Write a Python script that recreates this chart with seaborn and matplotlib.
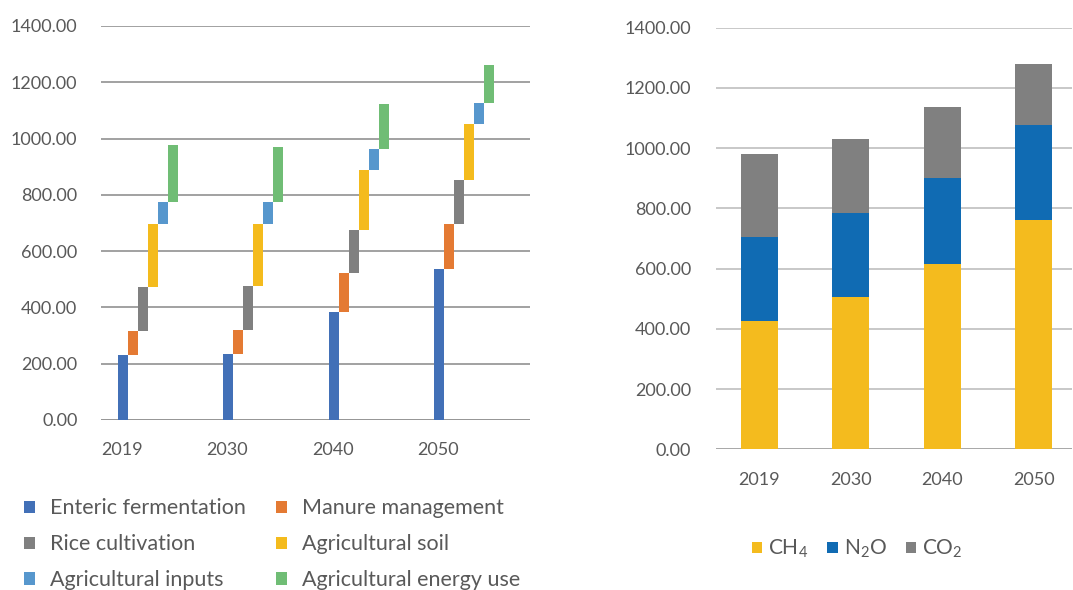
import matplotlib
matplotlib.use("Agg")
import matplotlib.pyplot as plt
import numpy as np
import pandas as pd
import seaborn as sb

years = ["2019", "2030", "2040", "2050"]

# left chart: waterfall-style contribution of each source
sources = ["Enteric fermentation", "Manure management", "Rice cultivation",
           "Agricultural soil", "Agricultural inputs", "Agricultural energy use"]
enteric = [231, 234, 384, 536]
manure = [85, 86, 138, 160]
rice = [156, 156, 153, 157]
soil = [224, 220, 213, 199]
inputs = [78, 78, 75, 74]
energy = [203, 196, 160, 135]
source_colors = ["#4270B7", "#E47A33", "#808080", "#F4BB1D", "#5797CD", "#70BD75"]

# right chart: stacked by gas
gases = [r"CH$_\mathrm{4}$", r"N$_\mathrm{2}$O", r"CO$_\mathrm{2}$"]
ch4 = [425, 506, 615, 761]
n2o = [279, 278, 286, 315]
co2 = [276, 246, 235, 203]
gas_colors = ["#F4BB1E", "#106BB3", "#808080"]

text_color = "#595959"
sb.set_theme(style="white")
plt.rcParams["font.family"] = ["Lato", "DejaVu Sans"]
plt.rcParams["mathtext.fontset"] = "custom"
plt.rcParams["mathtext.rm"] = "Lato"
plt.rcParams["mathtext.it"] = "Lato:italic"
plt.rcParams["text.color"] = text_color
plt.rcParams["xtick.color"] = text_color
plt.rcParams["ytick.color"] = text_color

fig = plt.figure(figsize=(10.73, 5.9), dpi=100)
W, H = 1073, 590


def axes_px(x0, x1, ytop, ybot):
    return fig.add_axes([x0 / W, (H - ybot) / H, (x1 - x0) / W, (ybot - ytop) / H])


def style_axis(ax, grid_color, zero_color):
    ax.set_ylim(0, 1400)
    ax.set_yticks(np.arange(0, 1401, 200))
    ax.set_yticklabels([f"{v:.2f}" for v in np.arange(0, 1401, 200)])
    for s in ax.spines.values():
        s.set_visible(False)
    for v in np.arange(200, 1401, 200):
        ax.axhline(v, color=grid_color, lw=1.3, zorder=0)
    ax.axhline(0, color=zero_color, lw=1.3, zorder=0)
    ax.tick_params(axis="both", length=0, labelsize=13)
    ax.set_xlabel("")
    ax.set_ylabel("")
    if ax.get_legend() is not None:
        ax.get_legend().remove()


# ---- left chart
ax1 = axes_px(101, 530, 26, 420)
series = [enteric, manure, rice, soil, inputs, energy]
step = 0.095
bottom = np.zeros(len(years))
xpos = np.arange(len(years), dtype=float)
for i, (name, vals) in enumerate(zip(sources, series)):
    df = pd.DataFrame({"x": xpos + i * step, "y": vals})
    sb.barplot(data=df, x="x", y="y", native_scale=True, width=step,
               color=source_colors[i], saturation=1, bottom=bottom.copy(),
               label=name, ax=ax1, linewidth=0, zorder=2)
    bottom = bottom + np.array(vals)
ax1.set_xlim(-0.21, 3.865)
ax1.set_xticks(xpos - 0.01)
ax1.set_xticklabels(years)
style_axis(ax1, "#9a9a9a", "#8c8c8c")
ax1.tick_params(axis="y", pad=17)
ax1.tick_params(axis="x", pad=16)

h, l = ax1.get_legend_handles_labels()
order = [0, 2, 4, 1, 3, 5]
fig.legend([h[k] for k in order], [l[k] for k in order], ncol=2,
           loc="upper left", bbox_to_anchor=(5 / W, 1 - 479 / H),
           frameon=False, fontsize=15.5, handlelength=0.5, handleheight=0.5,
           handletextpad=0.7, columnspacing=1.4, labelspacing=0.74,
           labelcolor=text_color)

# ---- right chart
ax2 = axes_px(716, 1072, 27.5, 449.3)
bottom = np.zeros(len(years))
for i, (name, vals) in enumerate(zip(gases, [ch4, n2o, co2])):
    df = pd.DataFrame({"year": years, "val": vals})
    sb.barplot(data=df, x="year", y="val", width=0.405, color=gas_colors[i],
               saturation=1, bottom=bottom.copy(), label=name, ax=ax2,
               linewidth=0, zorder=2)
    bottom = bottom + np.array(vals)
ax2.set_xlim(-0.476, 3.42)
style_axis(ax2, "#c4c4c4", "#a0a0a0")
ax2.tick_params(axis="y", pad=18)
ax2.tick_params(axis="x", pad=16)

h, l = ax2.get_legend_handles_labels()
fig.legend(h, l, ncol=3, loc="center left",
           bbox_to_anchor=(733 / W, 1 - 549 / H), frameon=False, fontsize=15,
           handlelength=0.5, handleheight=0.5, handletextpad=0.3,
           columnspacing=0.9, labelcolor=text_color)

fig.savefig("out.png", dpi=100)
